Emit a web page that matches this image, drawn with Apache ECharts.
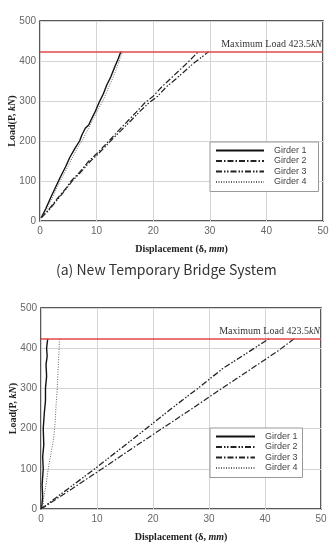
<!DOCTYPE html>
<html>
	<head>
		<meta charset="utf-8">
		<title>girder load-displacement</title>
		<script src="https://cdn.jsdelivr.net/npm/echarts@6/dist/echarts.min.js"></script>
		<style>
			body { margin: 0; background: #fff; }
			#main { width: 329px; height: 546px; }
		</style>
	</head>
	<body>
		<div id="main"></div>
		<script>
		    // (a) new temporary bridge system  [displacement mm, load kN]
		    var a_girder1 = [[0.2,8],[1,30],[2,62],[3,92],[3.6,110],[4.5,135],[5.3,160],[6.2,182],[7,200],[7.4,215],[8,232],[8.6,240],[9.2,258],[9.8,275],[10.5,298],[11.2,318],[11.8,340],[12.5,360],[13.2,385],[13.8,405],[14.3,423.5]];
		    var a_girder2 = [[0.2,8],[1.5,28],[3,55],[4.5,80],[5.5,100],[7,122],[8.5,148],[10,168],[11.5,190],[12.5,205],[14,228],[15.5,250],[17,272],[18.5,295],[20,312],[21.5,335],[23,355],[24.5,375],[26,395],[27.2,412],[28,423.5]];
		    var a_girder3 = [[0.2,8],[1.5,26],[3,52],[4.5,78],[5.7,100],[7.2,122],[8.8,148],[10.3,168],[11.8,190],[12.8,205],[14.3,226],[16,250],[17.5,272],[19.2,295],[20.8,312],[22.3,335],[24,355],[25.6,375],[27.2,395],[28.6,410],[29.8,423.5]];
		    var a_girder4 = [[0.3,8],[1.2,30],[2.3,62],[3.4,95],[4.5,125],[5.6,155],[6.6,182],[7.6,205],[8.5,230],[9.4,255],[10.3,280],[11.1,300],[12,330],[12.8,355],[13.5,380],[14.1,405],[14.6,423.5]];
		    // second system
		    var b_girder1 = [[0.1,0],[0.3,30],[0.2,60],[0.4,100],[0.3,130],[0.5,160],[0.4,200],[0.6,240],[0.8,270],[0.8,300],[1.0,330],[0.9,360],[1.1,380],[1.0,400],[1.2,423.5]];
		    var b_girder2 = [[0,0],[4.8,50],[9.6,100],[14.2,150],[18.8,200],[23.3,250],[28,300],[32.5,350],[37,390],[40.7,423.5]];
		    var b_girder3 = [[0,0],[5.5,50],[10.9,100],[16.2,150],[21.6,200],[27,250],[32.3,300],[37.7,350],[42.5,395],[45.2,423.5]];
		    var b_girder4 = [[0.3,0],[0.5,30],[0.9,60],[1.3,100],[1.8,140],[2.2,170],[2.5,210],[2.7,260],[2.9,300],[3.1,360],[3.2,390],[3.3,423.5]];

		    var maxLoad = 423.5;
		    var girderNames = ['Girder 1', 'Girder 2', 'Girder 3', 'Girder 4'];
		    var caption = '(a) New Temporary Bridge System';

		    var serif = '"Liberation Serif", "Times New Roman", serif';
		    var sans = '"Liberation Sans", Arial, sans-serif';

		    var dashDot = [6, 2, 1.5, 2];
		    var dashDotDot = [6, 2, 1.5, 1.5, 1.5, 2];

		    function xAx(idx) {
		        return {
		            gridIndex: idx, type: 'value', min: 0, max: 50, interval: 10,
		            name: 'Displacement (δ, {i|mm})', nameLocation: 'middle', nameGap: 23, nameMoveOverlap: false,
		            nameTextStyle: { fontFamily: serif, fontWeight: 'bold', fontSize: 10, color: '#222',
		                rich: { i: { fontFamily: serif, fontWeight: 'bold', fontStyle: 'italic', fontSize: 10, color: '#222' } } },
		            axisLine: { show: false }, axisTick: { show: false },
		            axisLabel: { fontFamily: sans, fontSize: 10, color: '#666', margin: 5 },
		            splitLine: { lineStyle: { color: '#d4d4d4', width: 1 } }
		        };
		    }
		    function yAx(idx) {
		        return {
		            gridIndex: idx, type: 'value', min: 0, max: 500, interval: 100,
		            name: 'Load(P, {i|kN})', nameLocation: 'middle', nameGap: 23, nameMoveOverlap: false,
		            nameTextStyle: { fontFamily: serif, fontWeight: 'bold', fontSize: 10, color: '#222',
		                rich: { i: { fontFamily: serif, fontWeight: 'bold', fontStyle: 'italic', fontSize: 10, color: '#222' } } },
		            axisLine: { show: false }, axisTick: { show: false },
		            axisLabel: { fontFamily: sans, fontSize: 10, color: '#666', margin: 4 },
		            splitLine: { lineStyle: { color: '#d4d4d4', width: 1 } }
		        };
		    }
		    function maxLine() {
		        return {
		            silent: true, symbol: 'none',
		            lineStyle: { color: '#e04848', width: 1.5, type: 'solid' },
		            label: {
		                position: 'insideEndTop', distance: [1, 2],
		                formatter: 'Maximum Load 423.5{i|kN}',
		                fontFamily: serif, fontSize: 10, color: '#333',
		                rich: { i: { fontFamily: serif, fontStyle: 'italic', fontSize: 10, color: '#333' } }
		            },
		            data: [{ yAxis: maxLoad }]
		        };
		    }
		    function line(name, idx, data, color, width, dash, withMax) {
		        var s = {
		            name: name, type: 'line', xAxisIndex: idx, yAxisIndex: idx,
		            data: data, symbol: 'none', animation: false,
		            lineStyle: { color: color, width: width, type: dash },
		            itemStyle: { color: color }
		        };
		        if (withMax) s.markLine = maxLine();
		        return s;
		    }
		    function legend(idx, left, top, padRight) {
		        return {
		            orient: 'vertical', left: left, top: top,
		            data: girderNames.map(function (n) { return idx ? n + ' ' : n; }),
		            formatter: function (n) { return n.trim(); },
		            itemWidth: idx ? 39 : 48, itemHeight: 8, itemGap: 1.5,
		            padding: [4, padRight, 5, 5],
		            backgroundColor: '#fff', borderColor: '#999', borderWidth: 1,
		            selectedMode: false,
		            itemStyle: { opacity: 0 },
		            textStyle: { fontFamily: sans, fontSize: 9, color: '#444', lineHeight: 9, padding: [0, 0, 0, 5] }
		        };
		    }

		    var chart = echarts.init(document.getElementById('main'));
		    var option = {
		        backgroundColor: '#fff',
		        animation: false,
		        title: {
		            text: caption, left: 51, top: 258,
		            textStyle: { fontFamily: '"Noto Sans CJK KR", sans-serif', fontWeight: 'normal', fontSize: 14, color: '#333' }
		        },
		        legend: [legend(0, 210, 142, 12), legend(1, 210, 428, 5)],
		        grid: [
		            { left: 40, top: 21, width: 283, height: 200, show: true, borderColor: '#222', borderWidth: 1.5, outerBoundsMode: 'none', containLabel: false },
		            { left: 41, top: 308, width: 280, height: 201, show: true, borderColor: '#222', borderWidth: 1.5, outerBoundsMode: 'none', containLabel: false }
		        ],
		        xAxis: [xAx(0), xAx(1)],
		        yAxis: [yAx(0), yAx(1)],
		        series: [
		            line('Girder 1', 0, a_girder1, '#111', 1.4, 'solid', true),
		            line('Girder 2', 0, a_girder2, '#222', 1.2, dashDot, false),
		            line('Girder 3', 0, a_girder3, '#222', 1.2, dashDotDot, false),
		            line('Girder 4', 0, a_girder4, '#666', 1, [1, 1.5], false),
		            line('Girder 1 ', 1, b_girder1, '#111', 1.4, 'solid', true),
		            line('Girder 2 ', 1, b_girder2, '#222', 1.3, dashDotDot, false),
		            line('Girder 3 ', 1, b_girder3, '#222', 1.2, dashDot, false),
		            line('Girder 4 ', 1, b_girder4, '#666', 1, [1, 1.5], false)
		        ]
		    };
		    chart.setOption(option);
		</script>
	</body>
</html>
